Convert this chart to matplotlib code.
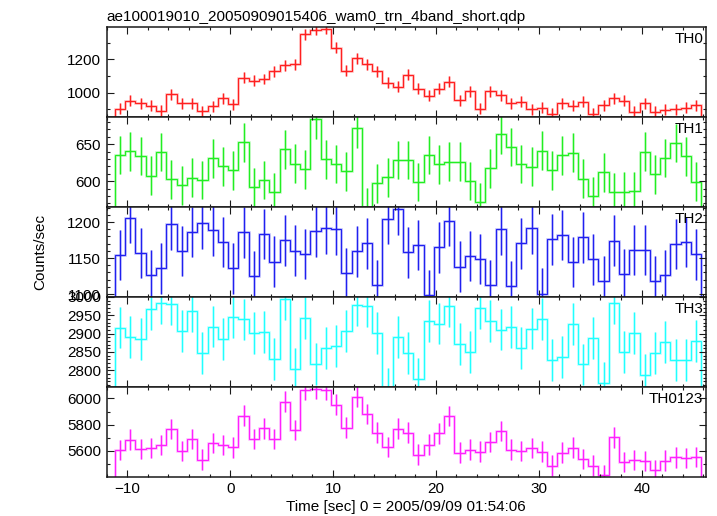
"""
WAM 4-band light curve (TH0..TH3 + sum), qdp-style stacked panels.
"""
import matplotlib
matplotlib.use("Agg")
import matplotlib.pyplot as plt
from matplotlib.ticker import MultipleLocator
import numpy as np

plt.rcParams["font.family"] = ["Liberation Sans", "DejaVu Sans"]

# ── data (counts/sec, 1 s bins) ──
TITLE = "ae100019010_20050909015406_wam0_trn_4band_short.qdp"
XLABEL = "Time [sec] 0 = 2005/09/09 01:54:06"
T_FIRST = -10.7   # centre of first bin
BIN_WIDTH = 1.0

th0 = [902, 951, 936, 920, 890, 989, 936, 936, 888, 918,
       967, 930, 1089, 1070, 1082, 1129, 1166, 1172, 1352, 1378,
       1386, 1271, 1131, 1208, 1172, 1129, 1060, 1034, 1107, 1024,
       981, 1022, 1066, 953, 1009, 904, 1009, 985, 936, 945,
       900, 910, 872, 936, 920, 945, 872, 924, 965, 951,
       886, 936, 886, 896, 900, 908, 924]
th1 = [635.6, 640.5, 634.2, 607.7, 639.6, 602.7, 594.6, 605.0, 601.8, 631.0,
       620.3, 614.9, 652.7, 591.9, 601.4, 585.6, 643.2, 623.9, 616.2, 683.8,
       629.7, 623.4, 613.5, 671.6, 565.0, 597.3, 605.4, 628.8, 628.8, 599.1,
       635.6, 623.0, 626.6, 626.6, 600.5, 571.6, 617.6, 663.5, 646.0, 623.4,
       619.8, 641.4, 614.9, 635.1, 638.7, 603.6, 580.2, 612.2, 585.1, 586.0,
       586.9, 640.1, 609.5, 631.5, 651.4, 633.8, 599.5]
th2 = [1154.2, 1206.0, 1156.9, 1125.9, 1135.6, 1196.8, 1159.7, 1186.1, 1198.1, 1188.4,
       1172.2, 1135.6, 1185.6, 1125.0, 1183.3, 1144.9, 1174.5, 1160.2, 1155.6, 1187.0,
       1191.2, 1189.8, 1129.2, 1159.3, 1170.4, 1112.0, 1204.2, 1217.6, 1157.9, 1168.0,
       1098.0, 1164.8, 1201.9, 1138.0, 1152.8, 1148.6, 1112.0, 1189.8, 1111.1, 1170.4,
       1191.2, 1100.5, 1175.9, 1181.9, 1144.4, 1178.7, 1148.1, 1117.6, 1174.1, 1127.8,
       1161.1, 1161.1, 1117.6, 1125.9, 1169.4, 1172.2, 1155.1]
th3 = [2916.5, 2890.9, 2885.4, 2965.8, 2982.3, 2979.5, 2908.2, 2962.2, 2847.9, 2919.2,
       2885.4, 2943.9, 2938.4, 2902.7, 2903.7, 2830.5, 2993.2, 2803.1, 2943.0, 2817.7,
       2861.6, 2866.2, 2908.2, 2976.8, 2975.0, 2901.8, 2748.0, 2890.9, 2847.9, 2775.7,
       2933.8, 2927.4, 2975.0, 2870.7, 2850.6, 2968.6, 2933.8, 2911.0, 2918.3, 2861.6,
       2913.7, 2940.2, 2826.9, 2835.1, 2926.5, 2815.9, 2889.0, 2766.5, 2984.1, 2848.8,
       2901.8, 2786.7, 2847.9, 2877.1, 2828.7, 2828.7, 2879.9]
th0123 = [5607.5, 5686.0, 5615.1, 5622.7, 5645.5, 5767.0, 5600.0, 5691.1, 5534.1, 5660.7,
          5645.5, 5627.8, 5868.3, 5691.1, 5772.1, 5691.1, 5974.7, 5759.5, 6063.3, 6070.9,
          6065.8, 5951.9, 5777.2, 6012.7, 5881.0, 5739.2, 5630.3, 5769.6, 5739.2, 5572.1,
          5648.1, 5734.1, 5865.8, 5587.3, 5610.1, 5594.9, 5668.3, 5751.9, 5610.1, 5600.0,
          5622.7, 5594.9, 5488.5, 5587.3, 5625.3, 5539.2, 5488.5, 5417.6, 5703.8, 5513.9,
          5531.6, 5524.0, 5455.6, 5526.5, 5551.8, 5546.8, 5554.4]

# typical 1-sigma error per band
errors = [33, 26, 35, 57, 78]
names = ["TH0", "TH1", "TH2", "TH3", "TH0123"]
colors = ["#ff2020", "#22ee22", "#2020f0", "#20ffff", "#ff20ff"]
ylims = [(855, 1397), (565.7, 687.3), (1096.3, 1221.3), (2755.5, 3000.4), (5404, 6089)]
ymajor = [200, 50, 50, 50, 200]
yminor = [100, 10, 10, 10, 100]
series = [th0, th1, th2, th3, th0123]

FS = 11
FRAME = "#1a1a1a"

centers = T_FIRST + BIN_WIDTH * np.arange(len(th0))
edges = np.append(centers - BIN_WIDTH / 2, centers[-1] + BIN_WIDTH / 2)

fig = plt.figure(figsize=(7.17, 5.16), dpi=100)
axes = fig.subplots(5, 1, sharex=True,
                    gridspec_kw=dict(hspace=0, left=0.1488, right=0.9847,
                                     top=0.9483, bottom=0.0762))

for ax, vals, err, name, col, yl, ymj, ymn in zip(
        axes, series, errors, names, colors, ylims, ymajor, yminor):
    vals = np.asarray(vals, dtype=float)
    # soft halo + crisp line, like the anti-aliased qdp output
    ax.stairs(vals, edges, color=col, lw=2.0, alpha=0.22)
    ax.stairs(vals, edges, color=col, lw=0.9)
    ax.vlines(centers, vals - err, vals + err, color=col, lw=2.0, alpha=0.22)
    ax.vlines(centers, vals - err, vals + err, color=col, lw=0.9)

    ax.set_xlim(-12.0, 46.26)
    ax.set_ylim(*yl)
    ax.yaxis.set_major_locator(MultipleLocator(ymj))
    ax.yaxis.set_minor_locator(MultipleLocator(ymn))
    ax.xaxis.set_major_locator(MultipleLocator(10))
    ax.xaxis.set_minor_locator(MultipleLocator(2))
    ax.tick_params(which="both", direction="in", top=True, right=True,
                   color=FRAME, width=0.8, labelsize=FS, pad=4)
    ax.tick_params(which="major", length=5)
    ax.tick_params(which="minor", length=2.5)
    for spine in ax.spines.values():
        spine.set_color(FRAME)
        spine.set_linewidth(1.1)

    ax.text(0.9955, 0.82, name, transform=ax.transAxes, ha="right",
            va="baseline", fontsize=FS, color="black")

for ax in axes[:-1]:
    ax.tick_params(labelbottom=False)

fig.text(0.1488, 1 - 21.5 / 516, TITLE, ha="left", va="baseline", fontsize=FS)
fig.text(40 / 717, 0.512, "Counts/sec", rotation=90, ha="center",
         va="center", fontsize=FS)
fig.text(0.5665, 1 - 507 / 516, XLABEL, ha="center", va="center", fontsize=FS)

fig.savefig("out.png", dpi=100, facecolor="white")
plt.close(fig)
